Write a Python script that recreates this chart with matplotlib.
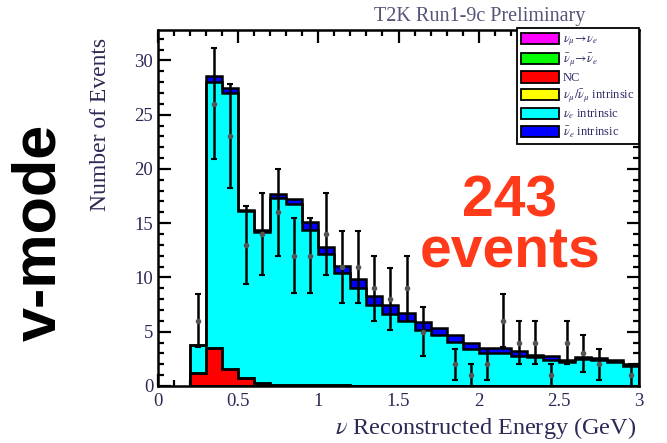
import matplotlib.pyplot as plt
import numpy as np
from matplotlib.patches import Patch
from matplotlib.ticker import MultipleLocator

plt.rcParams['font.family'] = ['Liberation Serif', 'DejaVu Serif']
plt.rcParams['mathtext.fontset'] = 'stix'

# bins: 0.1 GeV wide from 0.2 to 3.0 GeV
bin_edges = np.linspace(0.2, 3.0, 29)
bin_centers = 0.5 * (bin_edges[:-1] + bin_edges[1:])

# MC prediction (events per bin)
mc_total = [3.76, 28.6, 27.5, 16.25, 14.35, 17.7, 17.2, 15.1, 12.8, 11.1,
            9.9, 8.3, 7.45, 6.7, 5.9, 5.3, 4.7, 4.0, 3.5, 3.5,
            3.2, 2.85, 2.8, 2.4, 2.65, 2.55, 2.35, 2.0]
nuebar_intrinsic = [0.0, 0.6, 0.5, 0.15, 0.15, 0.35, 0.4, 0.7, 0.65, 0.7,
                    0.85, 0.85, 0.8, 0.75, 0.7, 0.6, 0.6, 0.55, 0.5, 0.45,
                    0.45, 0.15, 0.4, 0.15, 0.15, 0.15, 0.15, 0.15]
nc = [1.2, 3.5, 1.6, 0.75, 0.3, 0.12, 0.1, 0.08, 0.06, 0.05,
      0.04, 0.03, 0.03, 0.02, 0.02, 0.02, 0.01, 0.01, 0.01, 0.01,
      0.01, 0.01, 0.01, 0.01, 0.01, 0.01, 0.01, 0.01]
numu_to_nue = [0.0] * 28
numubar_to_nuebar = [0.0] * 28
numu_intrinsic = [0.0] * 28
nue_intrinsic = list(np.array(mc_total) - np.array(nuebar_intrinsic) - np.array(nc))

# data counts
data_counts = [6, 26, 23, 13, 14, 16, 12, 12, 14, 11,
               11, 9, 8, 9, 5, 0, 2, 1, 2, 6,
               4, 4, 1, 4, 3, 2, 0, 1]

labels = [r'$\nu_\mu\!\rightarrow\!\nu_e$', r'$\bar{\nu}_\mu\!\rightarrow\!\bar{\nu}_e$', 'NC',
          r'$\nu_\mu/\bar{\nu}_\mu$ intrinsic', r'$\nu_e$ intrinsic', r'$\bar{\nu}_e$ intrinsic']
colors = ['#ff00ff', '#00ff00', '#ff0000', '#ffff00', '#00ffff', '#0000ff']
components = [numu_to_nue, numubar_to_nuebar, nc, numu_intrinsic, nue_intrinsic, nuebar_intrinsic]

fig = plt.figure(figsize=(6.67, 4.43), dpi=100)
ax = fig.add_axes([158 / 667, 1 - 386 / 443, 481 / 667, 356 / 443])

# stacked histogram, drawn top layer first
cum = np.cumsum(np.array(components), axis=0)
for level, c in zip(cum[::-1], colors[::-1]):
    ax.stairs(level, bin_edges, fill=True, color=c, zorder=2)
for level in cum[::-1]:
    ax.stairs(level, bin_edges, color='black', lw=1.8, baseline=0, zorder=3)

# data points
d = np.array(data_counts, dtype=float)
m = d > 0
ax.errorbar(bin_centers[m], d[m], yerr=np.sqrt(d[m]), fmt='o', color='black',
            ms=3, mfc='#555555', mec='#555555', elinewidth=1.8, capsize=2, capthick=1.5, zorder=4)

ax.set_xlim(0, 3)
ax.set_ylim(0, 32.8)
ax.xaxis.set_major_locator(MultipleLocator(0.5))
ax.xaxis.set_minor_locator(MultipleLocator(0.1))
ax.yaxis.set_major_locator(MultipleLocator(5))
ax.yaxis.set_minor_locator(MultipleLocator(1))
ax.set_xticks([0, 0.5, 1, 1.5, 2, 2.5, 3])
ax.set_xticklabels(['0', '0.5', '1', '1.5', '2', '2.5', '3'])
ax.tick_params(which='both', direction='in', top=True, right=True, width=1.6,
               labelsize=13.5, labelcolor='#2a2a55')
ax.tick_params(which='major', length=9)
ax.tick_params(which='minor', length=4.5)
ax.tick_params(axis='x', pad=5)
for s in ax.spines.values():
    s.set_linewidth(1.8)

handles = [Patch(facecolor=c, edgecolor='black', lw=1.3) for c in colors]
leg = ax.legend(handles, labels, loc='upper right', bbox_to_anchor=(1, 1.005), borderaxespad=0,
                fontsize=9, fancybox=False, framealpha=1, edgecolor='black',
                handlelength=3.0, handleheight=1.0, labelspacing=0.25, handletextpad=0.35,
                borderpad=0.35)
leg.get_frame().set_linewidth(1.3)
for t in leg.get_texts():
    t.set_color('#2a2a66')
leg.set_zorder(10)

fig.text(585 / 667, 1 - 16 / 443, 'T2K Run1-9c Preliminary', ha='right', va='center',
         fontsize=14.5, color='#555577')
fig.text(100 / 667, 1 - 38 / 443, 'Number of Events', rotation=90, ha='center', va='top',
         fontsize=17, color='#2a2a55')
fig.text(636 / 667, 1 - 428 / 443, r'$\nu$ Reconstructed Energy (GeV)', ha='right', va='center',
         fontsize=17.5, color='#2a2a55')
fig.text(40 / 667, 1 - 232 / 443, 'v-mode', rotation=90, ha='center', va='center',
         fontsize=44, fontweight='bold', family='Liberation Sans', color='black')
fig.text(510 / 667, 1 - 227 / 443, '243\nevents', ha='center', va='center', linespacing=0.95,
         fontsize=41, fontweight='bold', family='Liberation Sans', color='#ff3a1a')

fig.savefig('out.png', dpi=100)
